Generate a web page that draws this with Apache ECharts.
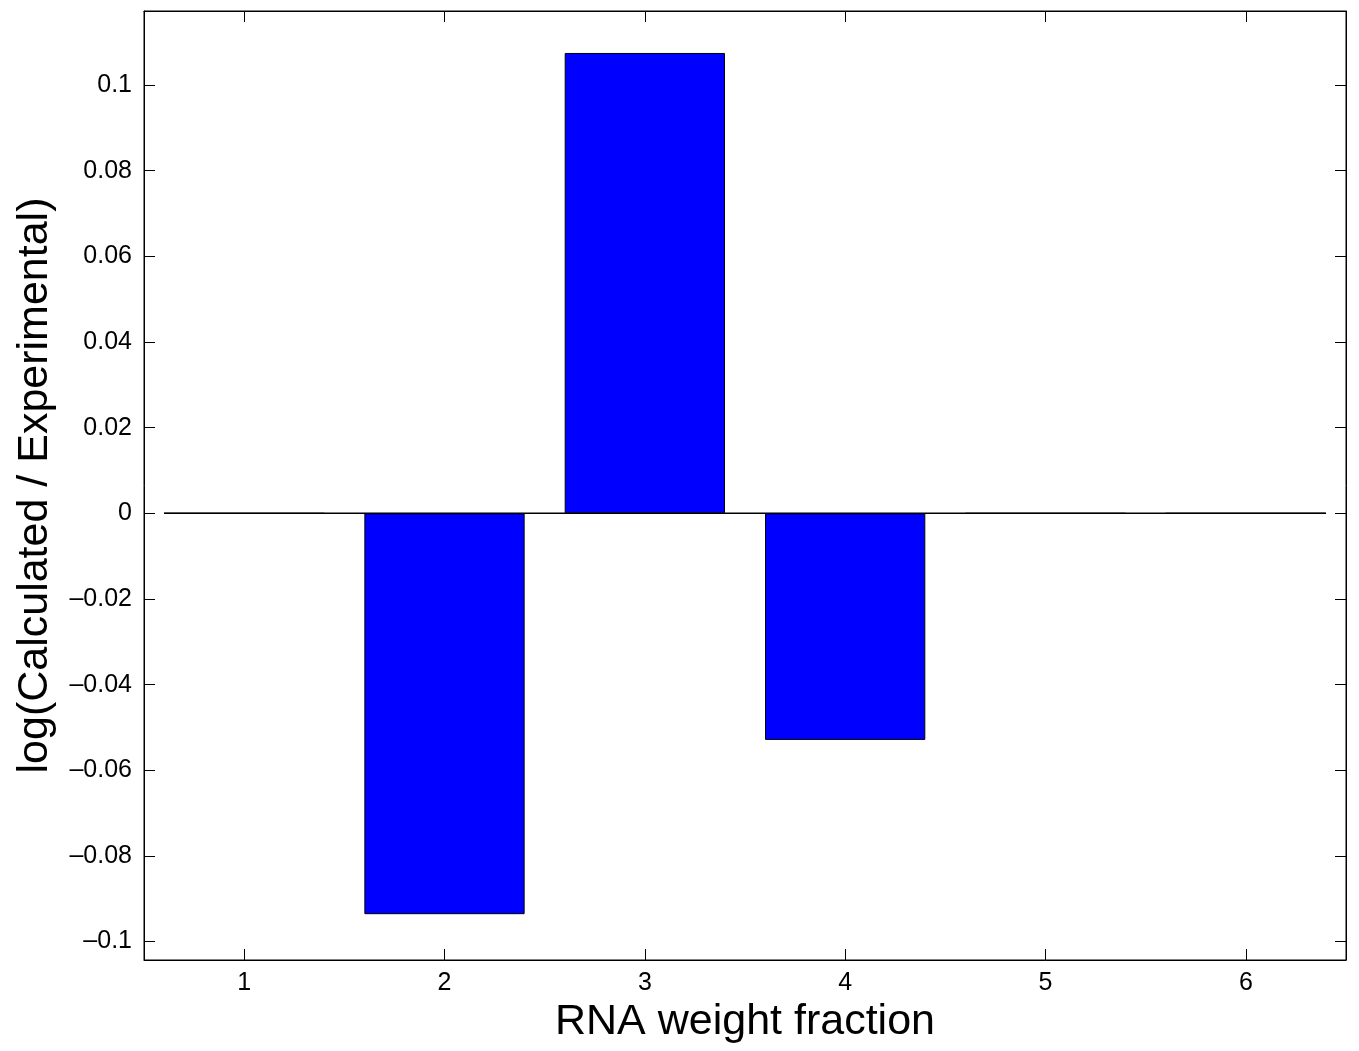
<!DOCTYPE html>
<html><head><meta charset="utf-8">
<script src="https://cdn.jsdelivr.net/npm/echarts@6/dist/echarts.min.js"></script>
<style>html,body{margin:0;padding:0;background:#fff}#c{width:1359px;height:1051px}</style>
</head><body><div id="c"></div>
<script>
const categories = ['1', '2', '3', '4', '5', '6'];
const values = [0, -0.0936, 0.1075, -0.0529, 0, 0];
const yTicks = [-0.1, -0.08, -0.06, -0.04, -0.02, 0, 0.02, 0.04, 0.06, 0.08, 0.1];
const baseline = [[0.6, 0], [6.4, 0]];

const font = 'Liberation Sans, Arial, Helvetica, sans-serif';
const fmt = v => {
  const s = String(+v.toFixed(2));
  return s.replace('-', '\u2013');
};
const chart = echarts.init(document.getElementById('c'), null, {renderer: 'canvas'});
chart.setOption({
  animation: false,
  backgroundColor: '#fff',
  grid: {left: 144, right: 13, top: 11, bottom: 91, show: true, borderColor: '#000', borderWidth: 1,
         containLabel: false, outerBoundsMode: 'none'},
  xAxis: [
    {type: 'category', data: categories, position: 'bottom', boundaryGap: true,
     axisLine: {show: true, onZero: false, lineStyle: {color: '#000', width: 1}},
     axisTick: {show: true, inside: true, alignWithLabel: true, length: 11, lineStyle: {color: '#000'}},
     axisLabel: {color: '#000', fontSize: 25, fontFamily: font, margin: 11},
     name: 'RNA weight fraction', nameLocation: 'middle', nameGap: 39,
     nameTextStyle: {color: '#000', fontSize: 43, fontFamily: font}},
    {type: 'category', data: categories, position: 'top', boundaryGap: true,
     axisLine: {show: true, onZero: false, lineStyle: {color: '#000'}},
     axisTick: {show: true, inside: true, alignWithLabel: true, length: 11, lineStyle: {color: '#000'}},
     axisLabel: {show: false}},
    {type: 'value', min: 0.5, max: 6.5, show: false}
  ],
  yAxis: [
    {type: 'value', min: -0.1043, max: 0.1173, position: 'left',
     splitLine: {show: false},
     axisLine: {show: true, onZero: false, lineStyle: {color: '#000'}},
     axisTick: {show: true, inside: true, length: 11, customValues: yTicks, lineStyle: {color: '#000'}},
     axisLabel: {color: '#000', fontSize: 25, fontFamily: font, margin: 12, customValues: yTicks, formatter: fmt},
     name: 'log(Calculated / Experimental)', nameLocation: 'middle', nameGap: 87,
     nameTextStyle: {color: '#000', fontSize: 43, fontFamily: font}},
    {type: 'value', min: -0.1043, max: 0.1173, position: 'right',
     splitLine: {show: false},
     axisLine: {show: true, onZero: false, lineStyle: {color: '#000'}},
     axisTick: {show: true, inside: true, length: 11, customValues: yTicks, lineStyle: {color: '#000'}},
     axisLabel: {show: false}}
  ],
  series: [
    {type: 'bar', data: values, xAxisIndex: 0, yAxisIndex: 0, barWidth: '80%',
     itemStyle: {color: '#0000ff', borderColor: '#000', borderWidth: 1}},
    {type: 'line', data: baseline, xAxisIndex: 2, yAxisIndex: 0, symbol: 'none',
     lineStyle: {color: '#000', width: 1.5}, z: 1}
  ]
});
</script></body></html>
